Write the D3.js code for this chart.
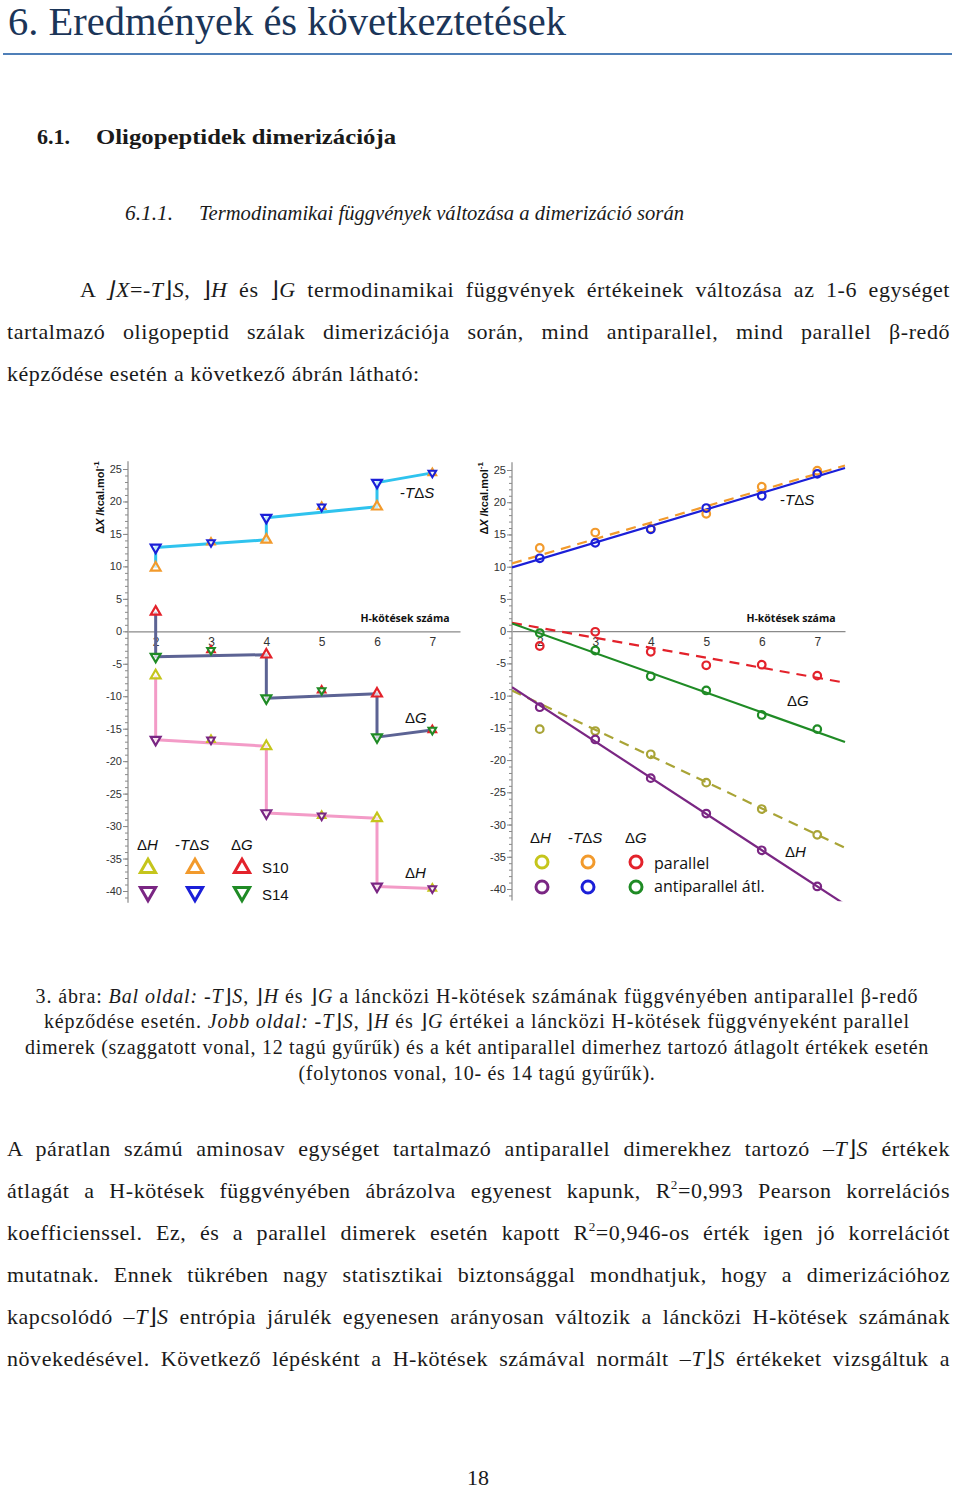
<!DOCTYPE html>
<html><head><meta charset="utf-8">
<script src="https://cdn.jsdelivr.net/npm/d3@7"></script>
<style>body{margin:0;background:#fff}svg{display:block}</style>
</head><body>
<svg id="page" width="960" height="1490"></svg>
<script>
// ---------------- DATA ----------------
const hbTicks = [2, 3, 4, 5, 6, 7];
const hbEven = [2, 4, 6];
const hbOdd = [3, 5, 7];
// left: antiparallel, S10 / S14 rings at even H-bond numbers, single dimer at odd
const lTdS_S10 = [9.8, 14.1, 19.2];
const lTdS_S14 = [12.9, 17.5, 22.9];
const lTdS_odd = [13.7, 19.2, 24.4];
const lDG_S10 = [3.0, -3.6, -9.6];
const lDG_S14 = [-3.9, -10.3, -16.3];
const lDG_odd = [-2.9, -9.1, -15.2];
const lDH_S10 = [-6.8, -17.7, -28.8];
const lDH_S14 = [-16.7, -28.0, -39.3];
const lDH_odd = [-16.7, -28.4, -39.6];
// right: parallel vs antiparallel average
const hbAll = [2, 3, 4, 5, 6, 7];
const rTdS_par = [12.9, 15.3, 15.9, 18.2, 22.4, 24.9];
const rTdS_anti = [11.3, 13.7, 15.8, 19.1, 21.0, 24.4];
const rDG_par = [-2.3, -0.1, -3.2, -5.3, -5.2, -6.9];
const rDG_anti = [-0.3, -3.0, -7.0, -9.2, -13.0, -15.2];
const rDH_par = [-15.2, -15.5, -19.1, -23.5, -27.6, -31.6];
const rDH_anti = [-11.8, -16.8, -22.8, -28.3, -34.0, -39.6];
// fitted lines: value at x = 1.5 and at x = 7.5
const fitX = [1.5, 7.5];
const fitTdS_par = [10.5, 25.7];
const fitTdS_anti = [9.9, 25.3];
const fitDG_par = [1.3, -8.0];
const fitDG_anti = [1.2, -17.2];
const fitDH_par = [-9.2, -33.6];
const fitDH_anti = [-8.7, -42.4];
const yMajor = [-40, -35, -30, -25, -20, -15, -10, -5, 0, 5, 10, 15, 20, 25];

// ---------------- COLORS ----------------
const C = {
  cyan: "#2fc3ee", slate: "#5c6394", pink: "#f39bc7",
  yel: "#c5c51c", ora: "#f29a2c", red: "#e3222b",
  pur: "#7a2683", blu: "#1b1fd8", grn: "#1f8b25",
  olive: "#a9a436", axis: "#8a8a8a", tick: "#333"
};

const svg = d3.select("#page");
const SERIF = "'Liberation Serif', 'DejaVu Serif', serif";
const SANS = "'Liberation Sans', Arial, sans-serif";

// ---------------- TEXT HELPER ----------------
function textLine(segs, o) {
  const t = svg.append("text")
    .attr("x", o.x).attr("y", o.y)
    .attr("font-family", o.family || SERIF)
    .attr("font-size", o.size)
    .attr("fill", o.fill || "#1a1a1a")
    .attr("font-weight", o.weight || "normal")
    .attr("text-anchor", o.anchor || "start");
  let shift = 0, all = "";
  segs.forEach(s => {
    const str = typeof s === "string" ? s : s[0];
    const st = typeof s === "string" ? "" : s[1];
    all += str;
    const ts = t.append("tspan").text(str);
    if (st === "i") ts.attr("font-style", "italic");
    if (st === "sup") { ts.attr("dy", -o.size * 0.4).attr("font-size", o.size * 0.6); shift = o.size * 0.4; }
    else if (shift) { ts.attr("dy", shift); shift = 0; }
  });
  if (!o.width) return t;
  const nChars = all.length;
  const nat0 = t.node().getComputedTextLength();
  if (o.force) {
    t.attr("textLength", o.width).attr("lengthAdjust", "spacingAndGlyphs");
    return t;
  }
  if (o.fit) { // natural (centred) line: letter spacing to reach the width
    t.attr("letter-spacing", ((o.width - nat0) / nChars).toFixed(3));
    return t;
  }
  const ls = o.ls || 0;
  t.attr("letter-spacing", ls);
  let nat1 = t.node().getComputedTextLength();
  if (nat1 - nat0 < 0.5 && ls) nat1 = nat0 + ls * nChars;
  if (o.justify) {
    const n = (all.match(/ /g) || []).length;
    if (n) t.attr("word-spacing", ((o.width - nat1) / n).toFixed(2));
  }
  return t;
}

// ---------------- PAGE TEXT ----------------
textLine(["6. Eredmények és következtetések"], {x: 8, y: 35, size: 39, fill: "#1b3558", width: 558, force: true});
svg.append("line").attr("x1", 3).attr("x2", 952).attr("y1", 54).attr("y2", 54)
  .attr("stroke", "#4f7fb8").attr("stroke-width", 2);
textLine(["6.1."], {x: 37, y: 144, size: 21, weight: "bold", width: 33, force: true});
textLine(["Oligopeptidek dimerizációja"], {x: 96, y: 144, size: 21, weight: "bold", width: 300, force: true});
textLine([["6.1.1.", "i"]], {x: 125, y: 220, size: 21, width: 48, force: true});
textLine([["Termodinamikai függvények változása a dimerizáció során", "i"]], {x: 199, y: 220, size: 21, width: 485, force: true});

const BODY_SIZE = 22, BODY_LS = 0.55;
const para1 = [
  [["A "], ["⌋X", "i"], ["=-"], ["T", "i"], ["⌋"], ["S", "i"], [", ⌋"], ["H", "i"], [" és ⌋"], ["G", "i"], [" termodinamikai függvények értékeinek változása az 1-6 egységet"]],
  [["tartalmazó oligopeptid szálak dimerizációja során, mind antiparallel, mind parallel β-redő"]],
  [["képződése esetén a következő ábrán látható:"]]
];
const para1X = [80, 7, 7], para1W = [870, 943, 428], para1Y = [297, 339, 381], para1J = [true, true, false];
para1.forEach((l, i) => textLine(l, {x: para1X[i], y: para1Y[i], size: BODY_SIZE, width: para1W[i], justify: para1J[i], ls: BODY_LS}));

const cap = [
  [["3. ábra: "], ["Bal oldal:", "i"], [" -"], ["T", "i"], ["⌋"], ["S", "i"], [", ⌋"], ["H", "i"], [" és ⌋"], ["G", "i"], [" a láncközi H-kötések számának függvényében antiparallel β-redő"]],
  [["képződése esetén. "], ["Jobb oldal:", "i"], [" -"], ["T", "i"], ["⌋"], ["S", "i"], [", ⌋"], ["H", "i"], [" és ⌋"], ["G", "i"], [" értékei a láncközi H-kötések függvényeként parallel"]],
  [["dimerek (szaggatott vonal, 12 tagú gyűrűk) és a két antiparallel dimerhez tartozó átlagolt értékek esetén"]],
  [["(folytonos vonal, 10- és 14 tagú gyűrűk)."]]
];
const capW = [883, 866, 904, 357], capY = [1003, 1028, 1054, 1080];
cap.forEach((l, i) => textLine(l, {x: 477, y: capY[i], size: 20, width: capW[i], anchor: "middle", fit: true}));

const para2 = [
  [["A páratlan számú aminosav egységet tartalmazó antiparallel dimerekhez tartozó –"], ["T", "i"], ["⌋"], ["S", "i"], [" értékek"]],
  [["átlagát a H-kötések függvényében ábrázolva egyenest kapunk, R"], ["2", "sup"], ["=0,993 Pearson korrelációs"]],
  [["koefficienssel. Ez, és a parallel dimerek esetén kapott R"], ["2", "sup"], ["=0,946-os érték igen jó korrelációt"]],
  [["mutatnak. Ennek tükrében nagy statisztikai biztonsággal mondhatjuk, hogy a dimerizációhoz"]],
  [["kapcsolódó –"], ["T", "i"], ["⌋"], ["S", "i"], [" entrópia járulék egyenesen arányosan változik a láncközi H-kötések számának"]],
  [["növekedésével. Következő lépésként a H-kötések számával normált –"], ["T", "i"], ["⌋"], ["S", "i"], [" értékeket vizsgáltuk a"]]
];
para2.forEach((l, i) => textLine(l, {x: 7, y: 1156 + 42 * i, size: BODY_SIZE, width: 943, justify: true, ls: BODY_LS}));
textLine(["18"], {x: 478, y: 1485, size: 22, anchor: "middle"});

// ---------------- CHART HELPERS ----------------
const tickFmt = d => String(d);
function axes(g, x, y, xLabelX) {
  g.append("g").attr("transform", `translate(${x.range()[0]},0)`)
    .call(d3.axisLeft(y).tickValues(d3.range(-41, 26, 1)).tickSize(3).tickFormat(""))
    .call(a => a.select(".domain").remove())
    .call(a => a.selectAll("line").attr("stroke", C.axis));
  g.append("g").attr("transform", `translate(${x.range()[0]},0)`)
    .call(d3.axisLeft(y).tickValues(yMajor).tickSize(5).tickPadding(1).tickFormat(tickFmt))
    .call(a => a.select(".domain").remove())
    .call(a => a.selectAll("line").attr("stroke", C.axis))
    .call(a => a.selectAll("text").attr("font-family", SANS).attr("font-size", 11).attr("fill", C.tick));
  g.append("line").attr("x1", x.range()[0]).attr("x2", x.range()[0])
    .attr("y1", y(26.2)).attr("y2", y(-41.8)).attr("stroke", C.axis).attr("stroke-width", 1.2);
  g.append("g").attr("transform", `translate(0,${y(0)})`)
    .call(d3.axisBottom(x).tickValues(hbTicks).tickSize(0).tickPadding(6).tickFormat(tickFmt))
    .call(a => a.select(".domain").attr("stroke", C.axis).attr("stroke-width", 1.2))
    .call(a => a.selectAll("text").attr("font-family", SANS).attr("font-size", 12).attr("fill", C.tick));
  g.append("text").attr("x", xLabelX).attr("y", y(0) - 9).attr("text-anchor", "middle")
    .attr("font-family", "'Open Sans', sans-serif").attr("font-weight", "bold").attr("font-size", 10.5)
    .attr("fill", "#111").text("H-kötések száma");
  const yt = g.append("text").attr("transform", `translate(${x.range()[0] - 24},${y(20.6)}) rotate(-90)`)
    .attr("text-anchor", "middle").attr("font-family", SANS).attr("font-weight", "bold").attr("font-size", 11).attr("fill", "#111");
  yt.append("tspan").text("Δ");
  yt.append("tspan").attr("font-style", "italic").text("X");
  yt.append("tspan").text(" /kcal.mol");
  yt.append("tspan").attr("dy", -5).attr("font-size", 8).text("-1");
}

function label(g, segs, x, y, size, family) {
  const t = g.append("text").attr("x", x).attr("y", y).attr("font-family", family || SANS)
    .attr("font-size", size).attr("fill", "#111");
  segs.forEach(s => {
    const ts = t.append("tspan").text(s[0]);
    if (s[1] === "i") ts.attr("font-style", "italic");
  });
  return t;
}
const lblTdS = [["-"], ["T", "i"], ["Δ"], ["S", "i"]];
const lblDG = [["Δ"], ["G", "i"]];
const lblDH = [["Δ"], ["H", "i"]];

const tri = d3.symbol().type(d3.symbolTriangle);
function triMarks(g, xs, vs, x, y, color, down, size, sw) {
  g.append("g").selectAll("path").data(xs.map((d, i) => [d, vs[i]])).join("path")
    .attr("d", tri.size(size)())
    .attr("transform", d => `translate(${x(d[0])},${y(d[1])}) rotate(${down ? 180 : 0})`)
    .attr("fill", "#fff").attr("fill-opacity", 0.7)
    .attr("stroke", color).attr("stroke-width", sw);
}

// ---------------- LEFT CHART ----------------
const gl = svg.append("g");
const xl = d3.scaleLinear().domain([1.5, 7.5]).range([128, 460]);
const yl = d3.scaleLinear().domain([-40, 25]).range([891, 469]);
axes(gl, xl, yl, 405);

function stepSeq(s10, s14, odd) {
  const pts = [];
  hbEven.forEach((h, i) => { pts.push([h, s10[i]]); pts.push([h, s14[i]]); });
  pts.push([hbOdd[2], odd[2]]);
  return pts;
}
const stepLine = d3.line().x(d => xl(d[0])).y(d => yl(d[1]));
const leftSeries = [
  {s10: lTdS_S10, s14: lTdS_S14, odd: lTdS_odd, line: C.cyan, c10: C.ora, c14: C.blu},
  {s10: lDG_S10, s14: lDG_S14, odd: lDG_odd, line: C.slate, c10: C.red, c14: C.grn},
  {s10: lDH_S10, s14: lDH_S14, odd: lDH_odd, line: C.pink, c10: C.yel, c14: C.pur}
];
leftSeries.forEach(s => {
  gl.append("path").attr("d", stepLine(stepSeq(s.s10, s.s14, s.odd)))
    .attr("fill", "none").attr("stroke", s.line).attr("stroke-width", 3).attr("stroke-linejoin", "round");
});
leftSeries.forEach(s => {
  triMarks(gl, hbEven, s.s10, xl, yl, s.c10, false, 42, 2.2);
  triMarks(gl, hbEven, s.s14, xl, yl, s.c14, true, 42, 2.2);
  triMarks(gl, hbOdd, s.odd, xl, yl, s.c10, false, 26, 2);
  triMarks(gl, hbOdd, s.odd, xl, yl, s.c14, true, 26, 2);
});
label(gl, lblTdS, 400, 498, 15);
label(gl, lblDG, 405, 723, 15);
label(gl, lblDH, 405, 878, 15);
// left legend
const legX = [148, 195, 242];
label(gl, lblDH, 137, 850, 15);
label(gl, lblTdS, 175, 850, 15);
label(gl, lblDG, 231, 850, 15);
const legUp = [C.yel, C.ora, C.red], legDown = [C.pur, C.blu, C.grn];
legX.forEach((lx, i) => {
  gl.append("path").attr("d", tri.size(100)()).attr("transform", `translate(${lx},868)`)
    .attr("fill", "#fff").attr("stroke", legUp[i]).attr("stroke-width", 3);
  gl.append("path").attr("d", tri.size(100)()).attr("transform", `translate(${lx},892) rotate(180)`)
    .attr("fill", "#fff").attr("stroke", legDown[i]).attr("stroke-width", 3);
});
label(gl, [["S10"]], 262, 873, 15);
label(gl, [["S14"]], 262, 900, 15);

// ---------------- RIGHT CHART ----------------
const gr = svg.append("g");
const xr = d3.scaleLinear().domain([1.5, 7.5]).range([512, 845]);
const yr = d3.scaleLinear().domain([-40, 25]).range([889, 470]);
axes(gr, xr, yr, 791);
gr.append("clipPath").attr("id", "rclip").append("rect")
  .attr("x", 512).attr("y", yr(27)).attr("width", 340).attr("height", yr(-41.9) - yr(27));
const fitLine = d3.line().x(d => xr(d[0])).y(d => yr(d[1]));
const rightSeries = [
  {v: rTdS_par, fit: fitTdS_par, col: C.ora, dash: true},
  {v: rTdS_anti, fit: fitTdS_anti, col: C.blu, dash: false},
  {v: rDG_par, fit: fitDG_par, col: C.red, dash: true},
  {v: rDG_anti, fit: fitDG_anti, col: C.grn, dash: false},
  {v: rDH_par, fit: fitDH_par, col: C.olive, dash: true},
  {v: rDH_anti, fit: fitDH_anti, col: C.pur, dash: false}
];
rightSeries.forEach(s => {
  gr.append("path").attr("clip-path", "url(#rclip)")
    .attr("d", fitLine(fitX.map((x, i) => [x, s.fit[i]])))
    .attr("fill", "none").attr("stroke", s.col).attr("stroke-width", 2.2)
    .attr("stroke-dasharray", s.dash ? "10,7" : null);
});
rightSeries.forEach(s => {
  gr.append("g").selectAll("circle").data(hbAll.map((h, i) => [h, s.v[i]])).join("circle")
    .attr("cx", d => xr(d[0])).attr("cy", d => yr(d[1])).attr("r", 3.8)
    .attr("fill", "none").attr("stroke", s.col).attr("stroke-width", 2.2);
});
label(gr, lblTdS, 780, 505, 15);
label(gr, lblDG, 787, 706, 15);
label(gr, lblDH, 785, 857, 15);
const rlegX = [542, 588, 636];
label(gr, lblDH, 530, 843, 15);
label(gr, lblTdS, 568, 843, 15);
label(gr, lblDG, 625, 843, 15);
const rlegUp = [C.yel, C.ora, C.red], rlegDown = [C.pur, C.blu, C.grn];
rlegX.forEach((lx, i) => {
  gr.append("circle").attr("cx", lx).attr("cy", 862).attr("r", 6).attr("fill", "none").attr("stroke", rlegUp[i]).attr("stroke-width", 3);
  gr.append("circle").attr("cx", lx).attr("cy", 887).attr("r", 6).attr("fill", "none").attr("stroke", rlegDown[i]).attr("stroke-width", 3);
});
label(gr, [["parallel"]], 654, 869, 16, "'Open Sans', sans-serif");
label(gr, [["antiparallel átl."]], 654, 892, 16, "'Open Sans', sans-serif");
</script>
</body></html>
